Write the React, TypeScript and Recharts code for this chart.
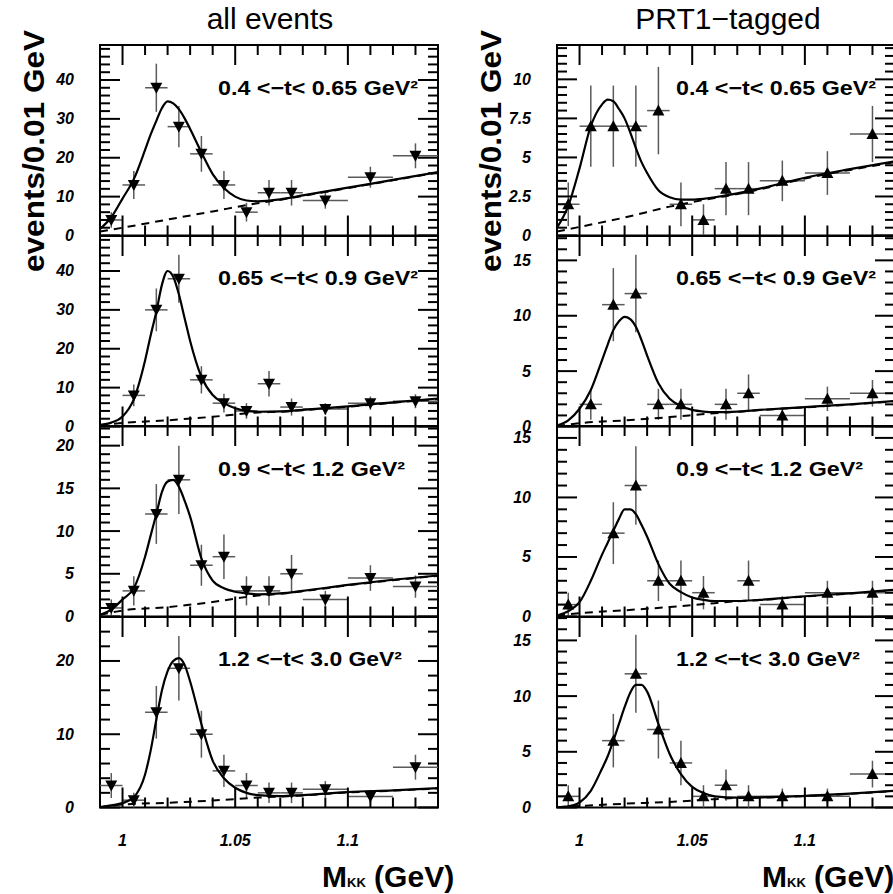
import React from "react";
import { ComposedChart, Scatter, Line, XAxis, YAxis, ErrorBar, ReferenceArea } from "recharts";

// K+K- mass bins (GeV); last three bins are 0.02 wide
const binCenters = [0.995, 1.005, 1.015, 1.025, 1.035, 1.045, 1.055, 1.065, 1.075, 1.09, 1.11, 1.13];
const binHalfWidths = [0.005, 0.005, 0.005, 0.005, 0.005, 0.005, 0.005, 0.005, 0.005, 0.01, 0.01, 0.01];

// all events, events / 0.01 GeV
const allT1 = [4, 13, 38, 28, 21, 13, 6, 11, 11, 9, 15, 20.5];
const allT1Err = [2, 3.6, 6.2, 5.3, 4.6, 3.6, 2.4, 3.3, 3.3, 2.1, 2.7, 3.2];
const allT2 = [null, 8, 30, 38, 12, 6, 4, 11, 5, 4.5, 6, 6.5];
const allT2Err = [null, 2.8, 5.5, 6.2, 3.5, 2.4, 2, 3.3, 2.2, 1.5, 1.7, 1.8];
const allT3 = [1, 3, 12, 16, 6, 7, 3, 3, 5, 2, 4.5, 3.5];
const allT3Err = [1, 1.7, 3.5, 4, 2.4, 2.6, 1.7, 1.7, 2.2, 1, 1.5, 1.3];
const allT4 = [3, 1, 13, 19, 10, 5, 3, 2, 2, 2.5, 1.5, 5.5];
const allT4Err = [1.7, 1, 3.6, 4.4, 3.2, 2.2, 1.7, 1.4, 1.4, 1.1, 0.9, 1.7];

// PRT1-tagged
const prtT1 = [2, 7, 7, 7, 8, 2, 1, 3, 3, 3.5, 4, 6.5];
const prtT1Err = [1.4, 2.6, 2.6, 2.6, 2.8, 1.4, 1, 1.7, 1.7, 1.3, 1.4, 1.8];
const prtT2 = [null, 2, 11, 12, 2, 2, null, 2, 3, 1, 2.5, 3];
const prtT2Err = [null, 1.4, 3.3, 3.5, 1.4, 1.4, null, 1.4, 1.7, 0.7, 1.1, 1.2];
const prtT3 = [1, null, 7, 11, 3, 3, 2, null, 3, 1, 2, 2];
const prtT3Err = [1, null, 2.6, 3.3, 1.7, 1.7, 1.4, null, 1.7, 0.7, 1, 1];
const prtT4 = [1, null, 6, 12, 7, 4, 1, 2, 1, 1, 1, 3];
const prtT4Err = [1, null, 2.4, 3.5, 2.6, 2, 1, 1.4, 1, 0.7, 0.7, 1.2];

// fit curves (phi + background)
const curveMass = [0.99, 0.995, 1.0, 1.005, 1.01, 1.0125, 1.015, 1.0175, 1.02, 1.0225, 1.025, 1.0275, 1.03, 1.035, 1.04, 1.045, 1.05, 1.055, 1.06, 1.07, 1.08, 1.1, 1.12, 1.14];
const allT1Fit = [1.7, 4.7, 9.5, 14.5, 22, 26, 29.5, 32.8, 34.5, 34, 32.5, 30.2, 27.4, 21.4, 15.8, 12.2, 10, 9, 8.8, 9.3, 10.3, 12.3, 14.3, 16.3];
const allT2Fit = [0.4, 1, 2.6, 7, 17, 23.5, 29.5, 36.5, 40, 38.5, 34, 28, 22, 12.8, 8.1, 6, 4.7, 4, 3.8, 3.9, 4.3, 5.2, 6.2, 7.2];
const allT3Fit = [0.2, 0.8, 2, 3.3, 7, 9.5, 12, 14.6, 15.8, 16, 15.2, 13.6, 11.7, 6.8, 4.2, 3.3, 2.9, 2.7, 2.6, 2.7, 3, 3.7, 4.3, 4.8];
const allT4Fit = [0.05, 0.3, 0.6, 1.4, 4.5, 7.8, 12, 16, 18.6, 20, 20.4, 19.5, 17.2, 11.4, 6.4, 4, 2.7, 2, 1.7, 1.55, 1.7, 2.1, 2.35, 2.65];
const prtT1Fit = [0.5, 1.9, 4.3, 7, 8.4, 8.7, 8.6, 8.1, 7.5, 6.6, 5.6, 4.7, 4, 2.9, 2.45, 2.3, 2.3, 2.35, 2.45, 2.7, 3, 3.7, 4.25, 4.75];
const prtT2Fit = [0.1, 0.55, 1.6, 3.3, 6, 7.4, 8.7, 9.5, 9.9, 9.7, 9, 7.8, 6.4, 3.9, 2.5, 1.85, 1.5, 1.35, 1.3, 1.35, 1.5, 1.75, 2, 2.3];
const prtT3Fit = [0.08, 0.45, 1.2, 3, 5.2, 6.2, 7.2, 8.2, 9, 9, 8.6, 7.7, 6.7, 4.4, 2.75, 2.05, 1.6, 1.4, 1.3, 1.3, 1.4, 1.7, 1.95, 2.25];
const prtT4Fit = [0.02, 0.1, 0.45, 1.5, 3.5, 4.6, 6, 7.5, 9, 10.3, 11, 11, 10.4, 7.5, 4.8, 3, 1.85, 1.3, 1, 0.88, 0.9, 1.05, 1.25, 1.5];

// background only (dashed)
const bgMass = [0.99, 1.0, 1.02, 1.04, 1.06, 1.07, 1.08, 1.1, 1.12, 1.14];
const allT1Bg = [1, 2, 4.1, 6.2, 8.3, 9.2, 10.2, 12.2, 14.2, 16.2];
const allT2Bg = [0.3, 0.9, 1.6, 2.5, 3.6, 3.8, 4.2, 5.1, 6.1, 7.1];
const allT3Bg = [0.2, 0.7, 1.1, 1.7, 2.45, 2.65, 2.95, 3.65, 4.25, 4.75];
const allT4Bg = [0.05, 0.4, 0.65, 0.95, 1.35, 1.5, 1.65, 2.05, 2.3, 2.6];
const prtT1Bg = [0.25, 0.55, 1.15, 1.85, 2.4, 2.65, 2.95, 3.65, 4.2, 4.7];
const prtT2Bg = [0.05, 0.3, 0.55, 0.85, 1.2, 1.33, 1.48, 1.73, 1.98, 2.28];
const prtT3Bg = [0.08, 0.28, 0.52, 0.8, 1.12, 1.28, 1.38, 1.68, 1.93, 2.23];
const prtT4Bg = [0.02, 0.13, 0.34, 0.5, 0.75, 0.86, 0.88, 1.03, 1.23, 1.48];

const tBins = ["0.4 <\u2212t< 0.65 GeV\u00b2", "0.65 <\u2212t< 0.9 GeV\u00b2", "0.9 <\u2212t< 1.2 GeV\u00b2", "1.2 <\u2212t< 3.0 GeV\u00b2"];
const tBinWidths = [200, 200, 187, 184];
const columnTitles = ["all events", "PRT1\u2212tagged"];

const xMinorTicks = [1.0, 1.01, 1.02, 1.03, 1.04, 1.05, 1.06, 1.07, 1.08, 1.09, 1.1, 1.11, 1.12, 1.13];
const xMajorTicks = [1.0, 1.05, 1.1];
const xTickLabels = ["1", "1.05", "1.1"];

const yMaxAll = [49, 49, 22.3, 26];
const yMaxPrt = [12.2, 17.2, 16, 17.1];
const yMajorAll = [[0, 10, 20, 30, 40], [0, 10, 20, 30, 40], [0, 5, 10, 15, 20], [0, 10, 20]];
const yMajorPrt = [[0, 2.5, 5, 7.5, 10], [0, 5, 10, 15], [0, 5, 10, 15], [0, 5, 10, 15]];
const yStepAll = [2, 2, 1, 2];
const yStepPrt = [0.5, 1, 1, 1];

const PLOT_W = 338;
const PLOT_H = 190.5;
const AXIS_W = 60;
const AXIS_H = 50;
const TOP_PAD = 5;
const RIGHT_PAD = 12;
const COL_LEFT = [100, 557];
const ROW_TOP = [45, 235.5, 426, 616.5];
const FONT = '"Liberation Sans", Arial, Helvetica, sans-serif';

const panels = [
  [
    { counts: allT1, errors: allT1Err, fit: allT1Fit, bg: allT1Bg },
    { counts: allT2, errors: allT2Err, fit: allT2Fit, bg: allT2Bg },
    { counts: allT3, errors: allT3Err, fit: allT3Fit, bg: allT3Bg },
    { counts: allT4, errors: allT4Err, fit: allT4Fit, bg: allT4Bg },
  ].map((p, i) => ({ ...p, yMax: yMaxAll[i], majors: yMajorAll[i], step: yStepAll[i] })),
  [
    { counts: prtT1, errors: prtT1Err, fit: prtT1Fit, bg: prtT1Bg },
    { counts: prtT2, errors: prtT2Err, fit: prtT2Fit, bg: prtT2Bg },
    { counts: prtT3, errors: prtT3Err, fit: prtT3Fit, bg: prtT3Bg },
    { counts: prtT4, errors: prtT4Err, fit: prtT4Fit, bg: prtT4Bg },
  ].map((p, i) => ({ ...p, yMax: yMaxPrt[i], majors: yMajorPrt[i], step: yStepPrt[i] })),
];

const findTick = (list: number[], v: number) => list.findIndex((m) => Math.abs(m - v) < 1e-6);

function Panel({ col, row }: { col: number; row: number }) {
  const panel = panels[col][row];
  const up = col === 1;
  const isBottom = row === 3;

  const points = binCenters
    .map((m, i) => ({ x: m, y: panel.counts[i], ex: binHalfWidths[i], ey: panel.errors[i] }))
    .filter((p) => p.y != null);
  const fit = curveMass.map((m, i) => ({ x: m, y: panel.fit[i] }));
  const bg = bgMass.map((m, i) => ({ x: m, y: panel.bg[i] }));

  const yTicks: number[] = [];
  for (let k = 0; k * panel.step < panel.yMax - 1e-6; k++) yTicks.push(Math.round(k * panel.step * 100) / 100);

  const xTick = (p: any) => {
    const mi = findTick(xMajorTicks, p.payload.value);
    const len = mi >= 0 ? 20 : 10;
    return (
      <g>
        <line x1={p.x} x2={p.x} y1={p.y} y2={p.y - len} stroke="#000" strokeWidth={2} />
        <line x1={p.x} x2={p.x} y1={p.y - PLOT_H} y2={p.y - PLOT_H + len} stroke="#000" strokeWidth={2} />
        {isBottom && mi >= 0 && (
          <text x={p.x} y={p.y + 33} textAnchor="middle" dominantBaseline="central" fontFamily={FONT} fontSize={16} fontWeight="bold" fontStyle="italic" fill="#000">
            {xTickLabels[mi]}
          </text>
        )}
      </g>
    );
  };

  const yTick = (p: any) => {
    const mi = findTick(panel.majors, p.payload.value);
    const len = mi >= 0 ? 20 : 10;
    return (
      <g>
        <line x1={p.x} x2={p.x + len} y1={p.y} y2={p.y} stroke="#000" strokeWidth={2} />
        <line x1={p.x + PLOT_W} x2={p.x + PLOT_W - len} y1={p.y} y2={p.y} stroke="#000" strokeWidth={2} />
        {mi >= 0 && (
          <text x={p.x - 26} y={p.y} textAnchor="end" dominantBaseline="central" fontFamily={FONT} fontSize={16} fontWeight="bold" fontStyle="italic" fill="#000">
            {String(panel.majors[mi])}
          </text>
        )}
      </g>
    );
  };

  const marker = (p: any) => {
    const { cx, cy } = p;
    const pts = up
      ? `${cx - 6},${cy + 5} ${cx + 6},${cy + 5} ${cx},${cy - 6}`
      : `${cx - 6},${cy - 5} ${cx + 6},${cy - 5} ${cx},${cy + 6}`;
    return <polygon points={pts} fill="#000" />;
  };

  return (
    <div style={{ position: "absolute", left: COL_LEFT[col] - AXIS_W, top: ROW_TOP[row] - TOP_PAD }}>
      <ComposedChart
        width={AXIS_W + PLOT_W + RIGHT_PAD}
        height={TOP_PAD + PLOT_H + AXIS_H}
        margin={{ top: TOP_PAD, right: RIGHT_PAD, bottom: 0, left: 0 }}
      >
        <XAxis dataKey="x" type="number" domain={[0.99, 1.14]} allowDataOverflow ticks={xMinorTicks} interval={0}
          tick={xTick} tickLine={false} axisLine={false} tickSize={0} tickMargin={0} height={AXIS_H} />
        <YAxis dataKey="y" type="number" domain={[0, panel.yMax]} allowDataOverflow ticks={yTicks} interval={0}
          tick={yTick} tickLine={false} axisLine={false} tickSize={0} tickMargin={0} width={AXIS_W} />
        <ReferenceArea x1={0.99} x2={1.14} y1={0} y2={panel.yMax} fill="none" stroke="#000" strokeWidth={2} ifOverflow="visible" />
        <Scatter data={points} dataKey="y" shape={marker} isAnimationActive={false}>
          <ErrorBar dataKey="ey" direction="y" width={0} stroke="#5a5a5a" strokeWidth={1.5} />
          <ErrorBar dataKey="ex" direction="x" width={0} stroke="#5a5a5a" strokeWidth={1.5} />
        </Scatter>
        <Line data={bg} dataKey="y" type="monotone" stroke="#000" strokeWidth={2} strokeDasharray="8 6"
          dot={false} activeDot={false} isAnimationActive={false} />
        <Line data={fit} dataKey="y" type="monotone" stroke="#000" strokeWidth={2.2}
          dot={false} activeDot={false} isAnimationActive={false} />
      </ComposedChart>
    </div>
  );
}

export default function App() {
  return (
    <div style={{ position: "absolute", left: 0, top: 0, width: 893, height: 894, overflow: "hidden", background: "#fff" }}>
      {[0, 1].map((c) => [0, 1, 2, 3].map((r) => <Panel key={`${c}-${r}`} col={c} row={r} />))}
      <svg width={893} height={894} style={{ position: "absolute", left: 0, top: 0, pointerEvents: "none" }}>
        {columnTitles.map((t, c) => (
          <text key={t} x={c === 0 ? 270 : 728} y={29} textAnchor="middle" fontFamily={FONT} fontSize={30} fill="#000">
            {t}
          </text>
        ))}
        {[44, 501].map((bx) => (
          <text key={bx} transform={`translate(${bx},151) rotate(-90)`} textAnchor="middle" fontFamily={FONT} fontSize={30}
            fontWeight="bold" fill="#000" textLength={242} lengthAdjust="spacingAndGlyphs">
            events/0.01 GeV
          </text>
        ))}
        {[0, 1].map((c) =>
          tBins.map((t, r) => (
            <text key={`${c}${r}`} x={c === 0 ? 218 : 676} y={ROW_TOP[r] + 49.5} fontFamily={FONT} fontSize={20}
              fontWeight="bold" fill="#000" textLength={tBinWidths[r]} lengthAdjust="spacingAndGlyphs">
              {t}
            </text>
          ))
        )}
        {[322, 762].map((mx) => (
          <text key={mx} x={mx} y={887} fontFamily={FONT} fontSize={30} fontWeight="bold" fill="#000">
            M<tspan fontSize={13}>KK</tspan> (GeV)
          </text>
        ))}
      </svg>
    </div>
  );
}
